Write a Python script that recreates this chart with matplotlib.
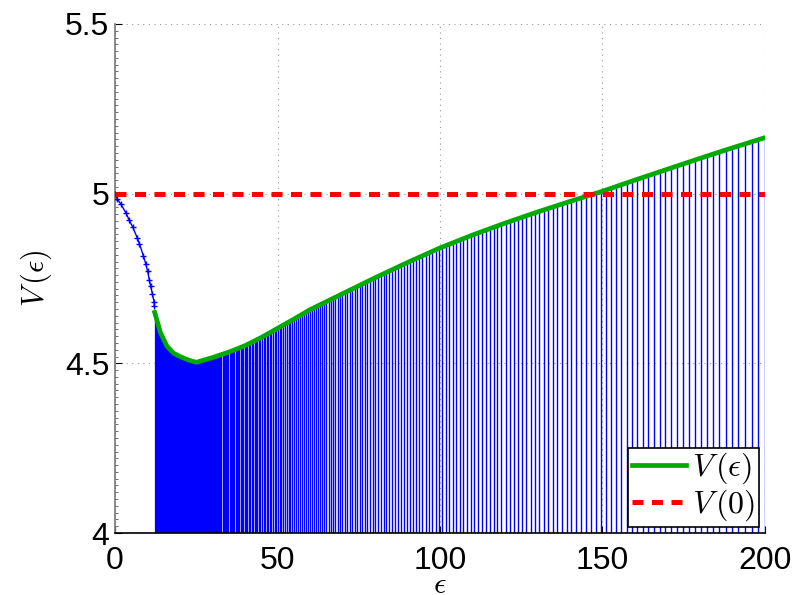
import matplotlib
matplotlib.use('Agg')
import matplotlib.pyplot as plt
import numpy as np
from matplotlib.ticker import MultipleLocator

plt.rcParams['font.family'] = ['Liberation Sans', 'DejaVu Sans']
plt.rcParams['mathtext.fontset'] = 'cm'

# blue line before the stems (with + markers)
eps_b = [0.0, 0.72, 1.74, 3.38, 4.4, 5.44, 6.87, 7.49, 8.72, 9.44, 10.05, 10.56, 10.97, 11.49, 12.0, 12.1]
v_b = [5.0, 4.984, 4.970, 4.943, 4.921, 4.902, 4.869, 4.853, 4.817, 4.794, 4.771, 4.746, 4.727, 4.705, 4.682, 4.670]

# V(eps) curve (green)
eps_g = [12.2, 14, 16, 18, 20, 22.5, 25, 27.5, 30, 35, 40, 45, 50, 55, 60, 70, 80, 90,
         100, 110, 120, 130, 140, 150, 160, 170, 180, 190, 200]
v_g = [4.65, 4.59, 4.55, 4.53, 4.52, 4.51, 4.503, 4.51, 4.517, 4.533, 4.552, 4.576, 4.603,
       4.630, 4.658, 4.705, 4.752, 4.797, 4.84, 4.878, 4.913, 4.946, 4.977, 5.007, 5.04,
       5.072, 5.104, 5.135, 5.165]

v0 = 5.0

# stem positions (sampling gets coarser with eps)
eps_stem = np.geomspace(12.2, 200, 270)

fig = plt.figure(figsize=(7.96, 5.95), dpi=100)
ax = fig.add_axes([0.1445, 0.1042, 0.8165, 0.8555])

ax.grid(True, color='#999999', linestyle=(0, (1, 4)), linewidth=0.8)
ax.set_axisbelow(True)

# stems clipped to the region under V(eps)
clip = ax.fill_between(eps_g, 4, v_g, facecolor='none', edgecolor='none')
stems = ax.vlines(eps_stem, 4, 5.5, colors='blue', linewidth=1.0, zorder=2)
stems.set_clip_path(clip.get_paths()[0], ax.transData)

ax.plot(eps_b, v_b, color='blue', marker='+', markersize=5, linewidth=1.0, zorder=3)

ax.plot(eps_g, v_g, color='#00aa00', linewidth=3.4, label=r'$V\,(\epsilon)$', zorder=4)
ax.plot([0, 200], [v0, v0], color='red', linewidth=3.6, linestyle=(0, (2.2, 1.7)),
        label=r'$V\,(0)$', zorder=5)

ax.set_xlim(0, 200)
ax.set_ylim(4, 5.5)
ax.set_xticks([0, 50, 100, 150, 200])
ax.set_yticks([4, 4.5, 5, 5.5])
ax.set_yticklabels(['4', '4.5', '5', '5.5'])
ax.yaxis.set_minor_locator(MultipleLocator(0.02))

for s in ['top', 'right']:
    ax.spines[s].set_visible(False)
ax.spines['left'].set_color('#777777')
ax.spines['left'].set_linewidth(1.2)
ax.spines['bottom'].set_linewidth(1.2)

ax.tick_params(axis='both', which='major', direction='in', length=5, labelsize=23)
ax.tick_params(axis='x', pad=9)
ax.tick_params(axis='y', pad=4)
ax.tick_params(axis='y', which='minor', direction='in', length=2.5, color='#555555')

ax.set_xlabel(r'$\epsilon$', fontsize=22, labelpad=-4)
ax.set_ylabel(r'$V\,(\epsilon)$', fontsize=22, labelpad=8)

leg = ax.legend(loc='lower right', fontsize=23, handlelength=1.7, handletextpad=0.2,
                borderpad=0.1, labelspacing=0.05, borderaxespad=0.2,
                fancybox=False, framealpha=1, edgecolor='black')
leg.get_frame().set_linewidth(1.2)

fig.savefig('out.png', dpi=100)
